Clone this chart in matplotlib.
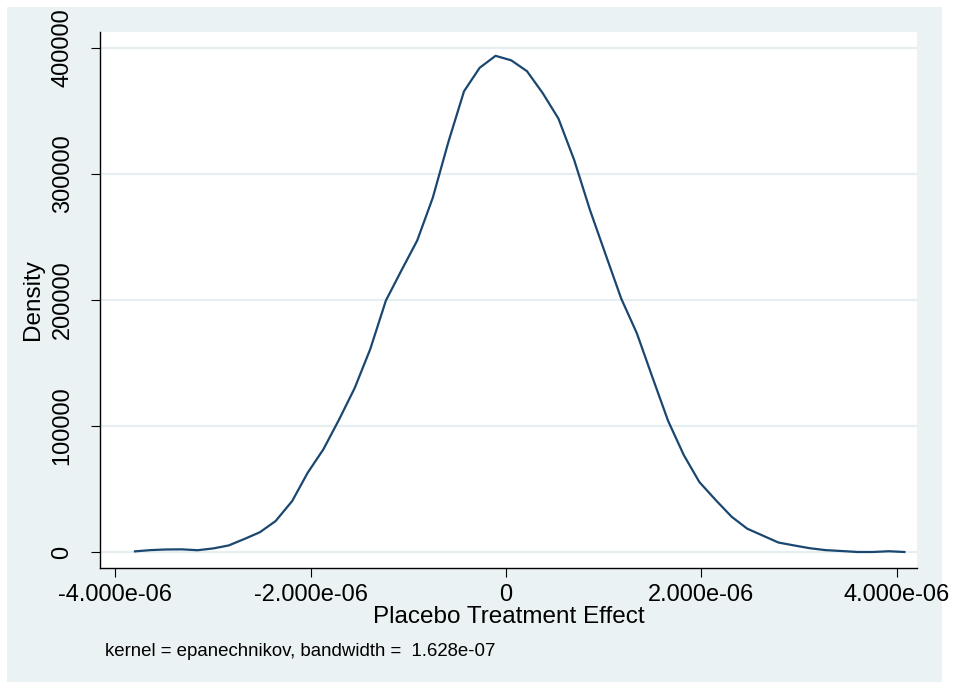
import matplotlib
matplotlib.use("Agg")
import matplotlib.pyplot as plt
import numpy as np
from matplotlib.patches import Rectangle

plt.rcParams['font.family'] = ['Liberation Sans', 'DejaVu Sans']

# kdensity grid (placebo effects) and estimated density
effect = [-3.80, -3.64, -3.48, -3.32, -3.16, -3.00, -2.84, -2.68, -2.52, -2.36,
          -2.19, -2.03, -1.87, -1.71, -1.55, -1.39, -1.23, -1.07, -0.91, -0.75,
          -0.59, -0.43, -0.27, -0.107, 0.054, 0.215, 0.376, 0.537, 0.698, 0.859,
          1.02, 1.18, 1.34, 1.50, 1.66, 1.82, 1.98, 2.15, 2.31, 2.47,
          2.63, 2.79, 2.95, 3.11, 3.27, 3.43, 3.60, 3.76, 3.92, 4.08]
density = [500, 1500, 2000, 2100, 1400, 2800, 5200, 10300, 15700, 24500,
           40400, 63000, 81500, 105000, 130000, 161000, 199500, 223500, 247000, 281000,
           325300, 365500, 384100, 393600, 390000, 381400, 364000, 343800, 311000, 271500,
           236000, 201000, 173500, 138500, 104000, 77000, 55500, 41000, 28000, 18500,
           13000, 7500, 5200, 3000, 1500, 800, 0, 0, 600, 0]

xticks = [-4e-06, -2e-06, 0, 2e-06, 4e-06]
xticklabels = ["-4.000e-06", "-2.000e-06", "0", "2.000e-06", "4.000e-06"]
yticks = [0, 100000, 200000, 300000, 400000]

x = np.array(effect) * 1e-6
y = np.array(density)

W, H = 955, 683
fig = plt.figure(figsize=(W / 100, H / 100), dpi=100)
fig.patch.set_facecolor("white")
# stata-ish light blue graph region
fig.add_artist(Rectangle((7 / W, 1 / H), 935 / W, 675 / H, transform=fig.transFigure,
                         facecolor="#eaf2f3", edgecolor="none", zorder=0))

ax = fig.add_axes([100 / W, (H - 568) / H, 817 / W, 536 / H])
ax.set_facecolor("white")
ax.plot(x, y, color="#1a476f", lw=1.6, zorder=3)

ax.set_xlim(-4.158e-06, 4.209e-06)
ax.set_ylim(-12700, 412500)

ax.set_xticks(xticks)
ax.set_xticklabels(xticklabels)
ax.set_yticks(yticks)
ax.set_yticklabels([str(v) for v in yticks], rotation=90, va="center")

for v in yticks:
    ax.axhline(v, color="#e6eef1", lw=1.6, zorder=1)

for s in ["top", "right"]:
    ax.spines[s].set_visible(False)
for s in ["left", "bottom"]:
    ax.spines[s].set_linewidth(1.0)
ax.tick_params(axis="both", direction="out", length=6.5, width=0.8, labelsize=17)
ax.tick_params(axis="y", pad=12.5)
ax.tick_params(axis="x", pad=5)

ax.set_xlabel("Placebo Treatment Effect", fontsize=17.5, labelpad=0)
ax.set_ylabel("Density", fontsize=17.5, labelpad=5.5)

fig.text(105 / W, (H - 656) / H, "kernel = epanechnikov, bandwidth =  1.628e-07",
         fontsize=13.4, va="baseline", ha="left")

fig.savefig("out.png", dpi=100)
